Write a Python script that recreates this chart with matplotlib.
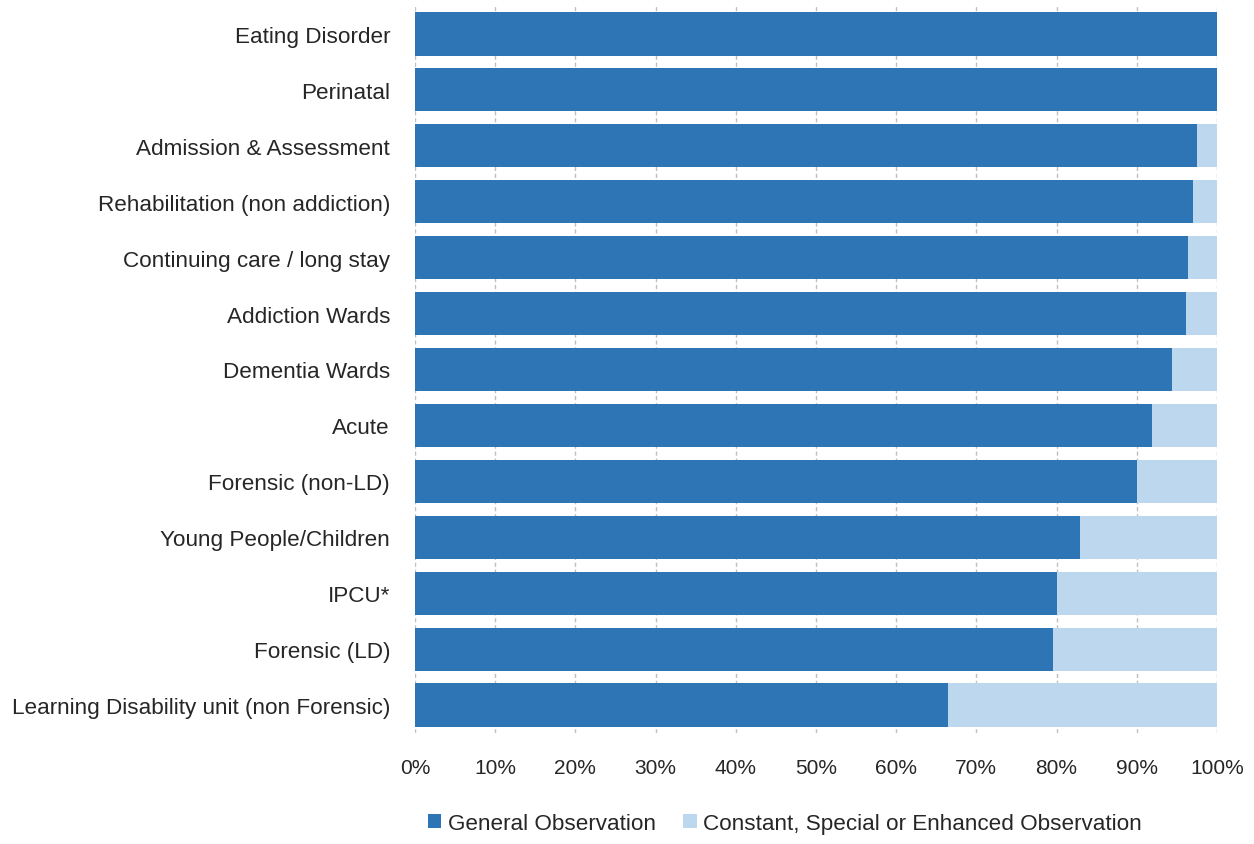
import matplotlib.pyplot as plt
from matplotlib.ticker import PercentFormatter

categories = [
    "Eating Disorder",
    "Perinatal",
    "Admission & Assessment",
    "Rehabilitation (non addiction)",
    "Continuing care / long stay",
    "Addiction Wards",
    "Dementia Wards",
    "Acute",
    "Forensic (non-LD)",
    "Young People/Children",
    "IPCU*",
    "Forensic (LD)",
    "Learning Disability unit (non Forensic)",
]
general = [100, 100, 97.5, 97.0, 96.4, 96.1, 94.4, 91.9, 90.0, 82.9, 80.0, 79.6, 66.5]
enhanced = [100 - g for g in general]

plt.rcParams["font.family"] = ["Liberation Sans", "DejaVu Sans"]

fig = plt.figure(figsize=(12.54, 8.45), dpi=100)
ax = fig.add_axes([0.331, 0.1314, 0.6394, 0.8603])

y = list(range(len(categories)))
ax.barh(y, general, height=0.77, color="#2E75B6", label="General Observation", zorder=2)
ax.barh(y, enhanced, left=general, height=0.77, color="#BDD7EE",
        label="Constant, Special or Enhanced Observation", zorder=2)

ax.set_yticks(y)
ax.set_yticklabels(categories, fontsize=16.2, color="#262626")
ax.set_ylim(len(categories) - 0.5, -0.5)

ax.set_xlim(0, 100)
ax.set_xticks(range(0, 101, 10))
ax.xaxis.set_major_formatter(PercentFormatter(decimals=0))
ax.tick_params(axis="x", labelsize=15, colors="#262626", length=0, pad=18)
ax.tick_params(axis="y", length=0, pad=18)

ax.grid(axis="x", color="#bfbfbf", linestyle=(0, (3, 2)), linewidth=1, zorder=0)
for s in ax.spines.values():
    s.set_visible(False)

fig.legend(loc="lower center", bbox_to_anchor=(0.626, -0.012), ncol=2, frameon=False,
           fontsize=16.2, handlelength=0.6, handleheight=0.6, handletextpad=0.3,
           columnspacing=1.2, labelcolor="#262626")

fig.savefig("out.png", dpi=100)
